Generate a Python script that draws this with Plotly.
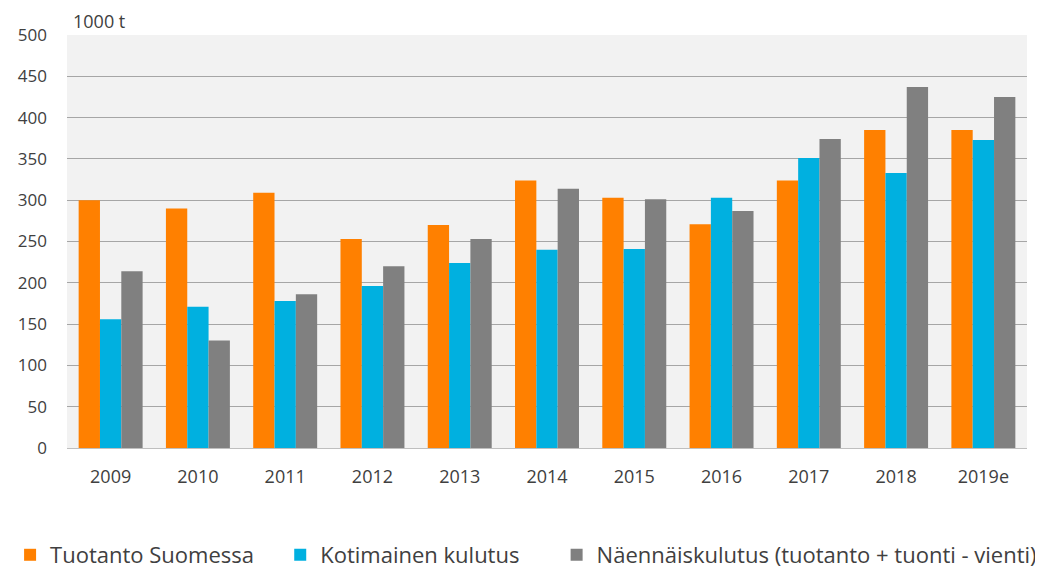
import plotly.graph_objects as go

years = ["2009", "2010", "2011", "2012", "2013", "2014", "2015", "2016", "2017", "2018", "2019e"]
tuotanto = [300, 290, 309, 253, 270, 324, 303, 271, 324, 385, 385]
kotimainen = [156, 171, 178, 196, 224, 240, 241, 303, 351, 333, 373]
naennais = [214, 130, 186, 220, 253, 314, 301, 287, 374, 437, 425]
y_ticks = [0, 50, 100, 150, 200, 250, 300, 350, 400, 450, 500]

names = ["Tuotanto Suomessa", "Kotimainen kulutus", "Näennäiskulutus (tuotanto + tuonti - vienti)"]
colors = ["#FF8000", "#00B0E0", "#808080"]
legend_ids = ["legend", "legend2", "legend3"]
legend_x = [0.002, 0.261, 0.526]

fig = go.Figure()
for name, vals, c, lg in zip(names, [tuotanto, kotimainen, naennais], colors, legend_ids):
    fig.add_trace(go.Bar(x=years, y=vals, name=name, legend=lg, showlegend=True,
                         marker=dict(color=c, line=dict(width=0))))

legend_common = dict(orientation="h", xref="container", yref="container", y=0.037,
                     xanchor="left", yanchor="middle", font=dict(size=22, color="#404040"),
                     bgcolor="rgba(0,0,0,0)")

fig.update_layout(
    width=1043, height=568,
    barmode="group", bargap=0.267, bargroupgap=0,
    paper_bgcolor="white", plot_bgcolor="#F2F2F2",
    margin=dict(l=59, r=24, t=27, b=128, autoexpand=False),
    font=dict(family="Open Sans, Liberation Sans, sans-serif", color="#404040", size=18),
    xaxis=dict(showgrid=False, ticks="", tickfont=dict(size=18), showline=True, linecolor="#BFBFBF",
               linewidth=1, ticklabelstandoff=12),
    yaxis=dict(range=[0, 500], tickvals=y_ticks, showgrid=True, gridcolor="#A6A6A6", gridwidth=1,
               zeroline=False, ticks="", tickfont=dict(size=17), ticklabelstandoff=19),
    legend=dict(x=legend_x[0], **legend_common),
    legend2=dict(x=legend_x[1], **legend_common),
    legend3=dict(x=legend_x[2], **legend_common),
    annotations=[dict(text="1000 t", xref="paper", yref="paper", x=0.004, y=1, xanchor="left", yanchor="bottom",
                      showarrow=False, font=dict(size=18))],
)

fig.write_html("out.html")
